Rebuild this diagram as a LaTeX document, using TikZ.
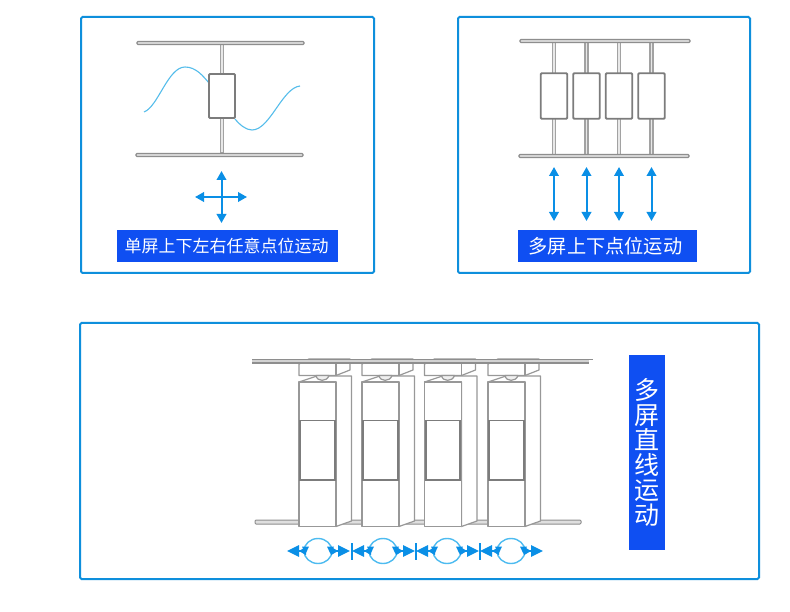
\documentclass[tikz,border=0pt]{standalone}
\usepackage{fontspec}
\newfontfamily\cjk{Noto Sans CJK SC}
\usetikzlibrary{arrows.meta}
\definecolor{panelblue}{HTML}{0E8FDC}
\definecolor{labelblue}{HTML}{0F4FF2}
\definecolor{arrowblue}{HTML}{0A8FE6}
\definecolor{circblue}{HTML}{4DBBF0}
\definecolor{wave}{HTML}{55BDEB}
\definecolor{railgray}{HTML}{8E8E8E}
\definecolor{postgray}{HTML}{A2A2A2}
\definecolor{linegray}{HTML}{7C7C7C}
\definecolor{casegray}{HTML}{989898}
\tikzset{
  panel/.style={draw=panelblue,line width=2pt,rounded corners=1.5pt,fill=white},
  rail/.style={draw=railgray,line width=1.2pt,fill=gray!25,rounded corners=1pt},
  post/.style={draw=postgray,line width=1.1pt,fill=gray!18},
  screenbox/.style={draw=linegray,line width=1.8pt,fill=white,rounded corners=1pt},
  moveline/.style={draw=arrowblue,line width=2pt,{Triangle[length=9pt,width=9.5pt]}-{Triangle[length=9pt,width=9.5pt]}},
  caption/.style={fill=labelblue,text=white,font=\cjk,inner sep=0pt,anchor=center},
  unitline/.style={draw=casegray,line width=1.2pt,line join=round},
  bigtip/.style={draw=arrowblue,line width=1.4pt,-{Triangle[length=7pt,width=8pt]Triangle[length=12pt,width=11.5pt]}},
  tickmark/.style={draw=arrowblue,line width=2pt},
  orbit/.style={draw=circblue,line width=1.4pt}
}
\newcommand{\hangerunit}[1]{%
  \begin{scope}[xshift=#1pt]
    \draw[unitline,fill=white] (0,364) -- (10,359) -- (51,359) -- (51,370) -- (37,375.5) -- (0,375.5) -- cycle;
    \draw[unitline] (37,375.5) -- (37,364);
  \end{scope}}
\newcommand{\caseunit}[1]{%
  \begin{scope}[xshift=#1pt]
    \draw[unitline,fill=white] (0,382) -- (18,376) -- (52.5,376) -- (52.5,521) -- (37,526.5) -- (37,382) -- cycle;
    \draw[unitline,fill=gray!12] (17,375.5) .. controls (18,382) and (28,382) .. (30,375.5) -- cycle;
    \draw[unitline,fill=white] (0,382) rectangle (37,526.5);
    \draw[draw=linegray,line width=1.9pt,fill=white] (1.2,420.5) rectangle (35.8,480);
  \end{scope}}
\newcommand{\orbitgroup}[2]{%
  \coordinate (#2c) at (#1,551);
  \coordinate (#2l) at (#1-31,551);
  \coordinate (#2la) at (#1-12,551);
  \coordinate (#2r) at (#1+32,551);
  \coordinate (#2ra) at (#1+13,551);
  \draw[orbit] (#2c) ellipse [x radius=14pt,y radius=12.5pt];
  \draw[bigtip] (#2la) -- (#2l);
  \draw[bigtip] (#2ra) -- (#2r);
  \fill[arrowblue] (#1-16,546.5) -- (#1-9,546.5) -- (#1-12.5,554) -- cycle;
  \fill[arrowblue] (#1+9,546.5) -- (#1+16,546.5) -- (#1+12.5,554) -- cycle;}
\begin{document}
\begin{tikzpicture}[x=1pt,y=-1pt]
\useasboundingbox (0,0) rectangle (790,612);
\fill[white] (0,0) rectangle (790,612);
\draw[panel] (81,17) rectangle (374,273);
\draw[panel] (458,17) rectangle (750,273);
\draw[panel] (80,323) rectangle (759,579);

% --- panel 1
\draw[post] (220.5,44) rectangle (223.5,153);
\draw[rail] (137,41.5) rectangle (304,44.5);
\draw[rail] (136,153.5) rectangle (303,156.5);
\draw[wave,line width=1.1pt] (144,112) .. controls (158,107) and (168,67) .. (185,67) .. controls (196,67) and (203,76) .. (209,83);
\draw[wave,line width=1.1pt] (235,119) .. controls (240,125) and (246,130) .. (252,130) .. controls (270,130) and (282,88) .. (300,86);
\node[screenbox,minimum width=26pt,minimum height=44pt,inner sep=0pt] (s1) at (222,96) {};
\coordinate (u1) at (221.5,171);
\coordinate (d1) at (221.5,223);
\coordinate (l1) at (195,197);
\coordinate (r1) at (247,197);
\draw[moveline] (u1) -- (d1);
\draw[moveline] (l1) -- (r1);
\node[caption,minimum width=221pt,minimum height=32pt,font=\cjk\fontsize{17}{17}\selectfont] (c1) at (227.5,246) {\hspace*{-2pt}单屏上下左右任意点位运动};

% --- panel 2
\foreach \px in {554,586.5,619,651.5}{
  \draw[post] (\px-1.5,42) rectangle (\px+1.5,155);
}
\draw[rail] (520,39.5) rectangle (690,42.5);
\draw[rail] (519,154.5) rectangle (689,157.5);
\foreach \nm/\px in {a/554,b/586.5,c/619,d/651.5}{
  \node[screenbox,minimum width=26.5pt,minimum height=45.5pt,inner sep=0pt] (s2\nm) at (\px,96) {};
  \coordinate (t2\nm) at (\px,167);
  \coordinate (b2\nm) at (\px,221);
  \draw[moveline] (t2\nm) -- (b2\nm);
}
\node[caption,minimum width=179pt,minimum height=32pt,font=\cjk\fontsize{19.2}{19.2}\selectfont] (c2) at (607.5,246) {\hspace*{-4pt}多屏上下点位运动};

% --- panel 3
\draw[rail,line width=1pt] (255,520) rectangle (581,524);
\hangerunit{299}
\hangerunit{362}
\hangerunit{424.5}
\hangerunit{488}
\fill[gray!35] (252,359.5) rectangle (589,363);
\draw[railgray,line width=1.4pt] (252,359.5) -- (593,359.5);
\draw[railgray,line width=1.4pt] (252,363.2) -- (589,363.2);
\caseunit{299}
\caseunit{362}
\caseunit{424.5}
\caseunit{488}
\orbitgroup{318}{p}
\orbitgroup{383}{q}
\orbitgroup{447}{r}
\orbitgroup{511}{s}
\coordinate (t1a) at (351.5,543); \coordinate (t1b) at (351.5,560);
\coordinate (t2a) at (415.5,543); \coordinate (t2b) at (415.5,560);
\coordinate (t3a) at (480,543); \coordinate (t3b) at (480,560);
\draw[tickmark] (t1a) -- (t1b);
\draw[tickmark] (t2a) -- (t2b);
\draw[tickmark] (t3a) -- (t3b);
\node[caption,minimum width=36pt,minimum height=195pt,align=center,font=\cjk\fontsize{25}{25}\selectfont] (c3) at (647,452.5) {多\\屏\\直\\线\\运\\动};
\end{tikzpicture}
\end{document}
